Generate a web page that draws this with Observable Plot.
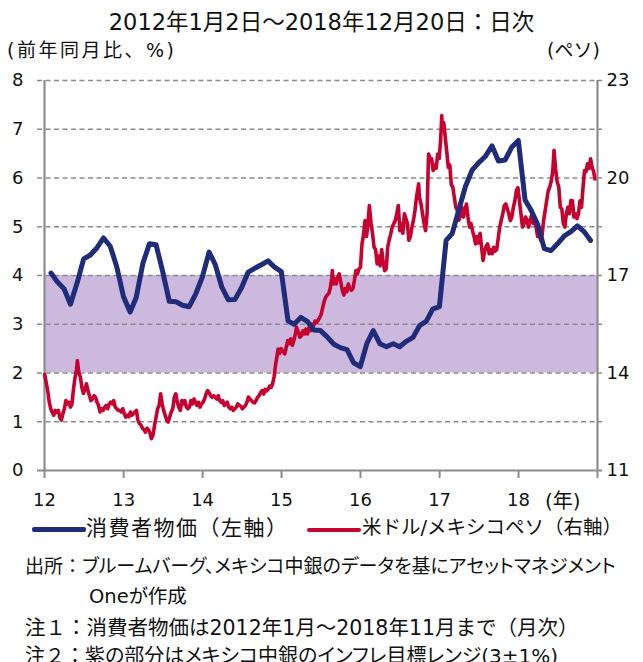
<!DOCTYPE html>
<html>
<head>
<meta charset="utf-8">
<script src="https://cdn.jsdelivr.net/npm/d3@7"></script>
<script src="https://cdn.jsdelivr.net/npm/@observablehq/plot@0.6"></script>
<style>
  body { margin: 0; background: #fff; }
  #wrap { position: relative; width: 643px; height: 662px; overflow: hidden; font-family: "DejaVu Sans", "Noto Sans CJK JP", sans-serif; color: #111; }
  .t { position: absolute; white-space: nowrap; line-height: 1; }
  .p { font-feature-settings: "palt"; }
  #chart { position: absolute; left: 0; top: 60px; }
  .sw { position: absolute; }
</style>
</head>
<body>
<div id="wrap">
  <div class="t" id="title" style="left:0;width:643px;text-align:center;top:11px;font-size:22.5px;">2012年1月2日～2018年12月20日：日次</div>
  <div class="t" style="left:7px;top:41px;font-size:19px;letter-spacing:2.5px;">(前年同月比、%)</div>
  <div class="t" style="left:547px;top:41px;font-size:19px;">(ペソ)</div>
  <div id="chart"></div>
  <div class="t" style="left:545px;top:491px;font-size:20px;">(年)</div>
  <div class="sw" style="left:32px;top:527px;width:54px;height:5px;background:#1f2c7a;border-radius:2px;"></div>
  <div class="t" style="left:86px;top:518px;font-size:21px;letter-spacing:1.5px;">消費者物価（左軸）</div>
  <div class="sw" style="left:307px;top:528px;width:54px;height:4px;background:#c8002f;border-radius:2px;"></div>
  <div class="t" style="left:362px;top:518px;font-size:19.5px;">米ドル/メキシコペソ（右軸）</div>
  <div class="t" style="left:25px;top:557px;font-size:19px;">出所：<span class="p">ブルームバーグ、メキシコ中銀のデータを基にアセットマネジメント</span></div>
  <div class="t p" style="left:89px;top:587px;font-size:19.5px;">Oneが作成</div>
  <div class="t" style="left:25px;top:618px;font-size:20.5px;">注１：消費者物価は2012年1月～2018年11月まで（月次）</div>
  <div class="t" style="left:25px;top:646px;font-size:20px;">注２：<span class="p">紫の部分はメキシコ中銀のインフレ目標レンジ(3±1%)</span></div>
</div>
<script>
// Consumer price index, % y/y, monthly Jan 2012 .. Nov 2018
const cpiStart = [2012, 1];
const cpiValues = [
  4.05, 3.87, 3.73, 3.41, 3.85, 4.34, 4.42, 4.57, 4.77, 4.60, 4.18, 3.57,
  3.25, 3.55, 4.25, 4.65, 4.63, 4.09, 3.47, 3.46, 3.39, 3.36, 3.62, 3.97,
  4.48, 4.23, 3.76, 3.50, 3.51, 3.75, 4.07, 4.15, 4.22, 4.30, 4.17, 4.08,
  3.07, 3.00, 3.14, 3.06, 2.88, 2.87, 2.74, 2.59, 2.52, 2.48, 2.21, 2.13,
  2.61, 2.87, 2.60, 2.54, 2.60, 2.54, 2.65, 2.73, 2.97, 3.06, 3.31, 3.36,
  4.72, 4.86, 5.35, 5.82, 6.16, 6.31, 6.44, 6.66, 6.35, 6.37, 6.63, 6.77,
  5.55, 5.34, 5.04, 4.55, 4.51, 4.65, 4.81, 4.90, 5.02, 4.90, 4.72
];
// USD/MXN (pesos per dollar)
const pesoSeries = [
["2012-01-02",13.95],["2012-01-09",13.70],["2012-01-16",13.45],["2012-01-23",13.10],["2012-01-30",12.90],
["2012-02-06",12.78],["2012-02-13",12.70],["2012-02-20",12.85],["2012-02-27",12.80],
["2012-03-05",12.85],["2012-03-12",12.62],["2012-03-19",12.55],["2012-03-26",12.75],
["2012-04-02",12.90],["2012-04-09",13.15],["2012-04-16",13.05],["2012-04-23",13.10],["2012-04-30",12.95],
["2012-05-07",13.05],["2012-05-14",13.50],["2012-05-21",13.85],["2012-05-28",14.10],
["2012-06-01",14.38],["2012-06-08",14.00],["2012-06-15",13.87],["2012-06-22",13.55],["2012-06-29",13.37],
["2012-07-06",13.50],["2012-07-13",13.67],["2012-07-20",13.45],["2012-07-27",13.30],
["2012-08-03",13.15],["2012-08-10",13.20],["2012-08-17",13.30],["2012-08-24",13.25],["2012-08-31",13.10],
["2012-09-07",13.00],["2012-09-14",12.80],["2012-09-21",12.90],["2012-09-28",12.85],
["2012-10-05",12.95],["2012-10-12",13.00],["2012-10-19",12.90],["2012-10-26",13.05],
["2012-11-02",13.10],["2012-11-09",13.05],["2012-11-16",13.15],["2012-11-23",12.95],["2012-11-30",12.90],
["2012-12-07",12.85],["2012-12-14",12.85],["2012-12-21",12.80],["2012-12-28",12.90],
["2013-01-04",12.75],["2013-01-11",12.64],["2013-01-18",12.70],["2013-01-25",12.65],
["2013-02-01",12.80],["2013-02-08",12.70],["2013-02-15",12.75],["2013-02-22",12.80],
["2013-03-01",12.85],["2013-03-08",12.55],["2013-03-15",12.44],["2013-03-22",12.40],["2013-03-29",12.30],
["2013-04-05",12.25],["2013-04-12",12.18],["2013-04-19",12.30],["2013-04-26",12.25],
["2013-05-03",12.15],["2013-05-09",11.98],["2013-05-17",12.10],["2013-05-24",12.40],["2013-05-31",12.64],
["2013-06-07",12.90],["2013-06-14",13.00],["2013-06-21",13.36],["2013-06-28",13.05],
["2013-07-05",12.85],["2013-07-12",12.70],["2013-07-19",12.55],["2013-07-26",12.49],
["2013-08-02",12.65],["2013-08-09",12.80],["2013-08-16",12.90],["2013-08-23",13.25],["2013-08-30",13.36],
["2013-09-06",13.10],["2013-09-13",12.95],["2013-09-20",12.85],["2013-09-27",13.15],
["2013-10-04",13.05],["2013-10-11",13.15],["2013-10-18",12.95],["2013-10-25",12.90],
["2013-11-01",12.95],["2013-11-08",13.15],["2013-11-15",13.05],["2013-11-22",13.20],["2013-11-29",13.10],
["2013-12-06",13.00],["2013-12-13",13.10],["2013-12-20",12.95],["2013-12-27",13.05],
["2014-01-03",13.10],["2014-01-10",13.20],["2014-01-17",13.35],["2014-01-24",13.46],["2014-01-31",13.40],
["2014-02-07",13.30],["2014-02-14",13.25],["2014-02-21",13.30],["2014-02-28",13.26],
["2014-03-07",13.20],["2014-03-14",13.30],["2014-03-21",13.15],["2014-03-28",13.10],
["2014-04-04",13.15],["2014-04-11",13.00],["2014-04-18",13.05],["2014-04-25",13.10],
["2014-05-02",12.95],["2014-05-09",12.90],["2014-05-16",12.95],["2014-05-23",12.85],["2014-05-30",12.90],
["2014-06-06",12.95],["2014-06-13",13.05],["2014-06-20",13.00],["2014-06-27",12.98],
["2014-07-04",12.90],["2014-07-11",12.95],["2014-07-18",13.00],["2014-07-25",13.10],
["2014-08-01",13.26],["2014-08-08",13.20],["2014-08-15",13.15],["2014-08-22",13.10],["2014-08-29",13.08],
["2014-09-05",13.15],["2014-09-12",13.25],["2014-09-19",13.30],["2014-09-26",13.40],
["2014-10-03",13.46],["2014-10-10",13.35],["2014-10-17",13.50],["2014-10-24",13.45],["2014-10-31",13.50],
["2014-11-07",13.60],["2014-11-14",13.56],["2014-11-21",13.67],["2014-11-28",13.90],
["2014-12-05",14.28],["2014-12-12",14.55],["2014-12-16",14.74],["2014-12-23",14.60],["2014-12-30",14.75],
["2015-01-09",14.65],["2015-01-16",14.59],["2015-01-23",14.80],["2015-01-30",15.00],
["2015-02-06",14.90],["2015-02-13",15.05],["2015-02-20",14.85],["2015-02-27",15.00],
["2015-03-06",15.20],["2015-03-11",15.41],["2015-03-20",15.25],["2015-03-27",15.10],
["2015-04-03",15.15],["2015-04-10",15.30],["2015-04-17",15.20],["2015-04-24",15.35],
["2015-05-01",15.20],["2015-05-08",15.40],["2015-05-15",15.30],["2015-05-22",15.50],["2015-05-29",15.45],
["2015-06-05",15.60],["2015-06-12",15.55],["2015-06-19",15.62],["2015-06-26",15.70],
["2015-07-03",15.80],["2015-07-10",16.00],["2015-07-17",16.20],["2015-07-24",16.33],["2015-07-31",16.40],
["2015-08-07",16.44],["2015-08-14",16.60],["2015-08-21",16.90],["2015-08-24",17.15],["2015-08-28",16.74],
["2015-09-04",16.90],["2015-09-11",16.74],["2015-09-18",16.95],["2015-09-25",17.05],
["2015-10-02",16.80],["2015-10-09",16.54],["2015-10-16",16.40],["2015-10-23",16.60],["2015-10-30",16.50],
["2015-11-06",16.74],["2015-11-13",16.60],["2015-11-20",16.54],["2015-11-27",16.60],
["2015-12-04",16.85],["2015-12-11",17.15],["2015-12-18",17.05],["2015-12-25",17.20],
["2016-01-01",17.25],["2016-01-08",17.97],["2016-01-15",18.25],["2016-01-22",18.69],["2016-01-29",18.20],
["2016-02-05",18.60],["2016-02-11",19.15],["2016-02-19",18.60],["2016-02-26",18.28],
["2016-03-04",17.87],["2016-03-11",17.80],["2016-03-18",17.36],["2016-03-25",17.60],
["2016-04-01",17.30],["2016-04-08",17.80],["2016-04-15",17.40],["2016-04-22",17.15],["2016-04-29",17.20],
["2016-05-06",17.87],["2016-05-13",18.10],["2016-05-20",18.28],["2016-05-27",18.50],
["2016-06-03",18.59],["2016-06-10",18.70],["2016-06-17",18.90],["2016-06-24",19.15],
["2016-07-01",18.38],["2016-07-08",18.60],["2016-07-15",18.30],["2016-07-22",18.90],["2016-07-29",18.75],
["2016-08-05",18.60],["2016-08-12",18.08],["2016-08-19",18.20],["2016-08-26",18.49],
["2016-09-02",18.70],["2016-09-09",19.00],["2016-09-16",19.40],["2016-09-26",19.82],["2016-09-30",19.40],
["2016-10-07",19.20],["2016-10-14",18.90],["2016-10-21",18.60],["2016-10-28",18.38],
["2016-11-04",18.90],["2016-11-09",20.30],["2016-11-11",20.74],["2016-11-18",20.60],["2016-11-25",20.60],
["2016-12-02",20.23],["2016-12-09",20.40],["2016-12-16",20.30],["2016-12-23",20.74],["2016-12-30",20.60],
["2017-01-06",21.20],["2017-01-11",21.92],["2017-01-13",21.50],["2017-01-20",21.70],["2017-01-27",21.26],
["2017-02-03",20.80],["2017-02-10",20.33],["2017-02-17",20.40],["2017-02-24",19.80],
["2017-03-03",19.72],["2017-03-10",19.40],["2017-03-17",19.10],["2017-03-24",19.00],["2017-03-31",18.70],
["2017-04-07",18.85],["2017-04-14",19.10],["2017-04-21",18.80],["2017-04-28",19.00],
["2017-05-05",19.20],["2017-05-12",18.80],["2017-05-19",18.49],["2017-05-26",18.60],
["2017-06-02",18.38],["2017-06-09",18.20],["2017-06-16",17.97],["2017-06-23",18.20],["2017-06-30",18.00],
["2017-07-07",18.30],["2017-07-14",17.87],["2017-07-21",17.46],["2017-07-28",17.75],
["2017-08-04",17.90],["2017-08-11",17.97],["2017-08-18",17.67],["2017-08-25",17.80],
["2017-09-01",17.67],["2017-09-08",17.87],["2017-09-15",17.75],["2017-09-22",17.80],["2017-09-29",18.15],
["2017-10-06",18.49],["2017-10-13",18.70],["2017-10-20",18.90],["2017-10-27",19.15],
["2017-11-03",19.20],["2017-11-10",19.05],["2017-11-17",18.90],["2017-11-24",18.69],
["2017-12-01",18.80],["2017-12-08",19.10],["2017-12-15",19.30],["2017-12-22",19.62],["2017-12-29",19.70],
["2018-01-05",19.30],["2018-01-12",18.90],["2018-01-19",18.49],["2018-01-26",18.60],
["2018-02-02",18.80],["2018-02-09",18.70],["2018-02-16",18.49],["2018-02-23",18.69],
["2018-03-02",18.85],["2018-03-09",18.60],["2018-03-16",18.70],["2018-03-23",18.49],["2018-03-30",18.20],
["2018-04-06",18.30],["2018-04-13",18.08],["2018-04-20",18.25],["2018-04-27",18.70],
["2018-05-04",19.00],["2018-05-11",19.30],["2018-05-18",19.60],["2018-05-25",19.72],
["2018-06-01",19.90],["2018-06-08",20.20],["2018-06-14",20.85],["2018-06-21",20.30],["2018-06-28",19.90],
["2018-07-06",19.72],["2018-07-13",19.10],["2018-07-20",19.05],["2018-07-27",18.60],
["2018-08-03",18.49],["2018-08-10",18.90],["2018-08-17",19.10],["2018-08-24",18.90],["2018-08-31",19.31],
["2018-09-07",19.30],["2018-09-14",18.80],["2018-09-21",18.90],["2018-09-28",18.75],
["2018-10-05",18.90],["2018-10-12",19.30],["2018-10-19",19.10],["2018-10-26",19.70],
["2018-11-02",20.23],["2018-11-09",20.20],["2018-11-16",20.44],["2018-11-23",20.30],["2018-11-30",20.59],
["2018-12-07",20.33],["2018-12-14",20.20],["2018-12-20",19.97]
];
const leftTicks = [0, 1, 2, 3, 4, 5, 6, 7, 8];
const rightTickLabels = [11, 14, 17, 20, 23];
const yearTicks = [2012, 2013, 2014, 2015, 2016, 2017, 2018, 2019];
const yearLabels = ["12", "13", "14", "15", "16", "17", "18", ""];
const targetBand = [{lo: 2, hi: 4}];

// right axis (pesos 11..23) is mapped onto the left scale (0..8)
const pesoToLeft = p => (p - 11) / 1.5;

const cpi = cpiValues.map((v, i) => ({date: new Date(Date.UTC(cpiStart[0], cpiStart[1] - 1 + i + 1, 0)), v}));
const peso = pesoSeries.map(([d, v]) => ({date: new Date(d + "T00:00:00Z"), v}));
const yearDates = yearTicks.map(y => new Date(Date.UTC(y, 0, 1)));

const grid = "#8c8c8c";
const chart = Plot.plot({
  width: 643,
  height: 460,
  marginTop: 20,
  marginBottom: 50,
  marginLeft: 44,
  marginRight: 46,
  style: {fontFamily: "'DejaVu Sans', sans-serif", fontSize: "17px", color: "#111", background: "transparent"},
  x: {type: "utc", domain: [yearDates[0], yearDates[yearDates.length - 1]]},
  y: {domain: [0, 8]},
  marks: [
    Plot.rectY(targetBand, {x1: yearDates[0], x2: yearDates[yearDates.length - 1], y1: "lo", y2: "hi", fill: "#cdb9dd"}),
    Plot.ruleY(leftTicks.filter(d => d > 0), {stroke: grid, strokeWidth: 1.6, strokeDasharray: "5,3.5", insetLeft: -7, insetRight: -5}),
    Plot.axisY({ticks: leftTicks, tickSize: 0, tickPadding: 21, tickFormat: d => d, fontSize: 18, anchor: "left"}),
    Plot.axisY({ticks: rightTickLabels.map(pesoToLeft), tickSize: 0, tickPadding: 9, tickFormat: d => Math.round(11 + 1.5 * d), fontSize: 18, anchor: "right"}),
    Plot.ruleX(yearDates, {y1: 0, y2: 0, stroke: grid, strokeWidth: 2, insetBottom: -8}),
    Plot.axisX({ticks: yearDates, tickSize: 0, tickPadding: 23, tickFormat: (d, i) => yearLabels[i], fontSize: 18}),
    Plot.ruleX([yearDates[0]], {y1: 0, y2: 8, stroke: grid, strokeWidth: 2.2}),
    Plot.ruleX([yearDates[yearDates.length - 1]], {y1: 0, y2: 8, stroke: grid, strokeWidth: 2.2}),
    Plot.ruleY([0], {stroke: grid, strokeWidth: 2, insetLeft: -7, insetRight: -5}),
    Plot.line(peso, {x: "date", y: d => pesoToLeft(d.v), stroke: "#c8002f", strokeWidth: 3.6, strokeLinejoin: "round"}),
    Plot.line(cpi, {x: "date", y: "v", stroke: "#1f2c7a", strokeWidth: 5, strokeLinejoin: "round"})
  ]
});
document.getElementById("chart").appendChild(chart);
</script>
</body>
</html>
